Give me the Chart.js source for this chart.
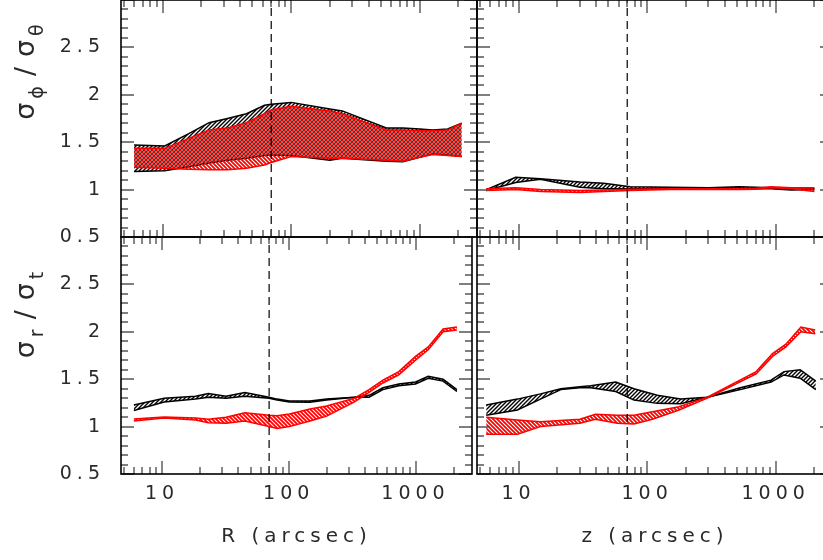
<!DOCTYPE html>
<html>
<head>
<meta charset="utf-8">
<title>Velocity dispersion ratios</title>
<script src="https://cdn.jsdelivr.net/npm/chart.js@4.4.1/dist/chart.umd.min.js"></script>
<style>
  html, body { margin: 0; padding: 0; background: #fff; }
  body { position: relative; width: 823px; height: 560px; overflow: hidden; }
  canvas { position: absolute; }
</style>
</head>
<body>
<canvas id="phiR" width="481" height="297" style="left:0;top:-30px"></canvas>
<canvas id="phiZ" width="380" height="297" style="left:465px;top:-30px"></canvas>
<canvas id="rtR" width="481" height="353" style="left:0;top:207px"></canvas>
<canvas id="rtZ" width="380" height="353" style="left:465px;top:207px"></canvas>
<script>
// ---------- data ----------
// sigma_phi / sigma_theta against R (arcsec)
const rPhi         = [6, 10.4, 16, 23, 32, 45, 62, 70, 100, 200, 250, 550, 740, 1000, 1260, 1650, 2120];
const phiR_blackLo = [1.19, 1.20, 1.24, 1.28, 1.31, 1.33, 1.36, 1.365, 1.36, 1.31, 1.33, 1.30, 1.295, 1.34, 1.375, 1.365, 1.35];
const phiR_blackHi = [1.47, 1.46, 1.59, 1.706, 1.75, 1.80, 1.89, 1.90, 1.92, 1.85, 1.83, 1.65, 1.65, 1.64, 1.63, 1.64, 1.70];
const phiR_redLo   = [1.235, 1.225, 1.215, 1.21, 1.21, 1.225, 1.26, 1.285, 1.35, 1.33, 1.33, 1.31, 1.30, 1.34, 1.37, 1.36, 1.35];
const phiR_redHi   = [1.435, 1.435, 1.54, 1.63, 1.65, 1.705, 1.80, 1.84, 1.88, 1.83, 1.80, 1.63, 1.63, 1.62, 1.62, 1.63, 1.70];

// sigma_phi / sigma_theta against z (arcsec)
const zPhi         = [5.6, 9.5, 14.8, 30, 46, 74, 150, 300, 519, 700, 920, 1320, 2000];
const phiZ_blackLo = [0.99, 1.075, 1.11, 1.025, 1.01, 1.01, 1.01, 1.01, 1.015, 1.01, 1.01, 0.995, 1.0];
const phiZ_blackHi = [1.00, 1.13, 1.115, 1.08, 1.066, 1.03, 1.025, 1.02, 1.03, 1.025, 1.02, 1.005, 1.01];
const phiZ_redLo   = [0.99, 1.0, 0.98, 0.97, 0.98, 0.99, 1.0, 1.0, 1.0, 1.005, 1.02, 1.01, 0.98];
const phiZ_redHi   = [1.01, 1.02, 1.0, 0.99, 0.995, 1.005, 1.01, 1.01, 1.01, 1.015, 1.03, 1.02, 1.02];

// sigma_r / sigma_t against R (arcsec)
const rRt         = [6, 10.4, 18.4, 23.2, 32, 45, 70, 81, 101, 147, 199, 330, 430, 553, 738, 1000, 1260, 1650, 2120];
const rtR_blackLo = [1.17, 1.26, 1.29, 1.31, 1.30, 1.32, 1.30, 1.28, 1.26, 1.256, 1.28, 1.31, 1.31, 1.39, 1.43, 1.45, 1.51, 1.48, 1.37];
const rtR_blackHi = [1.228, 1.30, 1.32, 1.35, 1.32, 1.36, 1.31, 1.29, 1.27, 1.27, 1.29, 1.31, 1.33, 1.41, 1.45, 1.47, 1.53, 1.50, 1.39];
const rtR_redLo   = [1.06, 1.09, 1.07, 1.04, 1.035, 1.06, 1.0, 0.98, 1.0, 1.06, 1.11, 1.26, 1.36, 1.46, 1.545, 1.70, 1.81, 2.0, 2.02];
const rtR_redHi   = [1.08, 1.10, 1.09, 1.077, 1.098, 1.147, 1.12, 1.115, 1.133, 1.186, 1.217, 1.30, 1.39, 1.49, 1.58, 1.74, 1.84, 2.03, 2.05];

// sigma_r / sigma_t against z (arcsec)
const zRtBlack    = [5.6, 9.8, 14.8, 21.3, 30, 36.5, 57, 79, 120, 182, 294, 530, 920, 1160, 1550, 2050];
const rtZ_blackLo = [1.12, 1.175, 1.29, 1.39, 1.41, 1.41, 1.37, 1.28, 1.245, 1.24, 1.31, 1.39, 1.47, 1.545, 1.51, 1.39];
const rtZ_blackHi = [1.228, 1.29, 1.345, 1.40, 1.42, 1.43, 1.47, 1.40, 1.33, 1.29, 1.31, 1.41, 1.49, 1.58, 1.60, 1.48];
const zRtRed      = [5.6, 9.8, 14.8, 30, 39.6, 58.6, 79, 110, 177, 294, 705, 944, 1200, 1570, 2030];
const rtZ_redLo   = [0.92, 0.92, 1.0, 1.035, 1.077, 1.035, 1.027, 1.077, 1.175, 1.30, 1.555, 1.74, 1.84, 2.0, 1.98];
const rtZ_redHi   = [1.098, 1.07, 1.05, 1.077, 1.13, 1.12, 1.12, 1.157, 1.21, 1.31, 1.58, 1.77, 1.87, 2.05, 2.02];

const markerX = 70;                         // dashed vertical marker (arcsec)
const yTickLabels = [0.5, 1, 1.5, 2, 2.5];
const xTickLabels = [10, 100, 1000];

// ---------- styling ----------
const FONT = "'DejaVu Sans', 'Liberation Sans', sans-serif";
const TEXT = '#2a2a2a';
const X_MIN = 4.75, X_MAX = 2790, Y_MIN = 0.5, Y_MAX = 3;
Chart.defaults.font.family = FONT;
Chart.defaults.font.size = 19;
Chart.defaults.color = TEXT;

// diagonal hatch tile used as a fill pattern
function makeHatch(color, dir, size, width) {
  const c = document.createElement('canvas');
  c.width = size; c.height = size;
  const g = c.getContext('2d');
  g.strokeStyle = color; g.lineWidth = width; g.lineCap = 'square';
  g.beginPath();
  if (dir > 0) {            // "/" lines
    g.moveTo(-1, size + 1); g.lineTo(size + 1, -1);
    g.moveTo(-1, 1); g.lineTo(1, -1);
    g.moveTo(size - 1, size + 1); g.lineTo(size + 1, size - 1);
  } else {                  // "\" lines
    g.moveTo(-1, -1); g.lineTo(size + 1, size + 1);
    g.moveTo(size - 1, -1); g.lineTo(size + 1, 1);
    g.moveTo(-1, size - 1); g.lineTo(1, size + 1);
  }
  g.stroke();
  return g.createPattern(c, 'repeat');
}
const hatchBlack = makeHatch('#000000', 1, 4, 1.4);
const hatchRed = makeHatch('#ff0000', -1, 4, 1.8);

// wider glyph spacing for the axis text
const spacedText = {
  id: 'spacedText',
  beforeDraw(chart) { chart.ctx.letterSpacing = '5px'; }
};

// box frame with inward major/minor tick marks on all four sides
const frameTicks = {
  id: 'frameTicks',
  afterDraw(chart) {
    const { ctx, chartArea: a, scales: { x, y } } = chart;
    ctx.save();
    ctx.strokeStyle = '#555';
    ctx.lineWidth = 1.4;
    ctx.beginPath();
    for (let i = 5; i <= 30; i++) {
      const py = Math.round(y.getPixelForValue(i / 10));
      const len = i % 5 === 0 ? 13 : 7;
      ctx.moveTo(a.left, py); ctx.lineTo(a.left + len, py);
      ctx.moveTo(a.right, py); ctx.lineTo(a.right - len, py);
    }
    for (let d = 1; d <= 1000; d *= 10) {
      for (let k = 1; k <= 9; k++) {
        const v = k * d;
        if (v < x.min || v > x.max) continue;
        const px = Math.round(x.getPixelForValue(v));
        const len = k === 1 ? 13 : 7;
        ctx.moveTo(px, a.bottom); ctx.lineTo(px, a.bottom - len);
        ctx.moveTo(px, a.top); ctx.lineTo(px, a.top + len);
      }
    }
    ctx.stroke();
    ctx.strokeStyle = '#000';
    ctx.lineWidth = 1.6;
    ctx.strokeRect(a.left, a.top, a.right - a.left, a.bottom - a.top);
    ctx.restore();
  }
};

// rotated y-axis title with subscripts; each part carries the gap that follows it
const yTitle = {
  id: 'yTitle',
  afterDraw(chart, args, opts) {
    if (!opts || !opts.parts) return;
    const ctx = chart.ctx;
    ctx.save();
    ctx.letterSpacing = '0px';
    ctx.fillStyle = TEXT;
    ctx.textBaseline = 'alphabetic';
    ctx.textAlign = 'left';
    const big = opts.size + 'px ' + FONT;
    const small = Math.round(opts.size * 0.72) + 'px ' + FONT;
    let total = 0;
    const widths = opts.parts.map((p, i) => {
      ctx.font = p.sub ? small : big;
      const w = ctx.measureText(p.t).width + (i < opts.parts.length - 1 ? (p.g || 0) : 0);
      total += w;
      return w;
    });
    ctx.translate(opts.x, opts.y);
    ctx.rotate(-Math.PI / 2);
    let cx = -total / 2;
    opts.parts.forEach((p, i) => {
      ctx.font = p.sub ? small : big;
      ctx.fillText(p.t, cx, p.sub ? opts.size * 0.32 : 0);
      cx += widths[i];
    });
    ctx.restore();
  }
};

function points(xs, ys) { return xs.map((x, i) => ({ x, y: ys[i] })); }

function band(xs, lo, hi, color, pattern, order) {
  return [
    { data: points(xs, lo), borderColor: color, borderWidth: 1.5, fill: false, order: order + 1 },
    { data: points(xs, hi), borderColor: color, borderWidth: 1.5, fill: '-1', backgroundColor: pattern, order: order }
  ];
}

function makePanel(id, cfg) {
  return new Chart(document.getElementById(id), {
    type: 'line',
    data: {
      datasets: [
        ...band(cfg.bx, cfg.blo, cfg.bhi, '#000000', hatchBlack, 3),
        ...band(cfg.rx, cfg.rlo, cfg.rhi, '#ff0000', hatchRed, 1),
        { data: [{ x: markerX, y: Y_MIN }, { x: markerX, y: Y_MAX }], borderColor: '#000',
          borderWidth: 1.2, borderDash: [8, 5], fill: false, order: 0 }
      ]
    },
    options: {
      responsive: false,
      animation: false,
      events: [],
      layout: { padding: cfg.padding },
      elements: { point: { radius: 0 }, line: { tension: 0 } },
      plugins: {
        legend: { display: false },
        tooltip: { enabled: false },
        yTitle: cfg.yTitle || {}
      },
      scales: {
        x: {
          type: 'logarithmic', min: X_MIN, max: X_MAX, display: cfg.showX,
          grid: { display: false, drawTicks: false }, border: { display: false },
          ticks: {
            autoSkip: false, maxRotation: 0, padding: 9,
            callback: v => (xTickLabels.includes(Math.round(v)) && Math.abs(v - Math.round(v)) < 1e-6) ? String(Math.round(v)) : ''
          },
          title: { display: !!cfg.xTitle, text: cfg.xTitle, font: { size: 20 }, padding: { top: 0, bottom: 11 } },
          afterFit: s => { s.height = cfg.showX ? 86 : 0; }
        },
        y: {
          type: 'linear', min: Y_MIN, max: Y_MAX, display: cfg.showY,
          grid: { display: false, drawTicks: false }, border: { display: false },
          ticks: {
            stepSize: 0.5, autoSkip: false, padding: 16,
            callback: v => yTickLabels.includes(v) ? String(v) : ''
          },
          afterFit: s => { s.width = cfg.showY ? 121 : 0; }
        }
      }
    },
    plugins: [spacedText, frameTicks, yTitle]
  });
}

makePanel('phiR', {
  bx: rPhi, blo: phiR_blackLo, bhi: phiR_blackHi,
  rx: rPhi, rlo: phiR_redLo, rhi: phiR_redHi,
  showX: false, showY: true,
  padding: { left: 0, top: 30, right: 4, bottom: 30 },
  yTitle: { parts: [{ t: 'σ', g: 4 }, { t: 'ϕ', sub: true, g: 10 }, { t: '/', g: 10 }, { t: 'σ', g: 4 }, { t: 'θ', sub: true }],
            x: 34, y: 102, size: 27 }
});
makePanel('phiZ', {
  bx: zPhi, blo: phiZ_blackLo, bhi: phiZ_blackHi,
  rx: zPhi, rlo: phiZ_redLo, rhi: phiZ_redHi,
  showX: false, showY: false,
  padding: { left: 12, top: 30, right: 12, bottom: 30 }
});
makePanel('rtR', {
  bx: rRt, blo: rtR_blackLo, bhi: rtR_blackHi,
  rx: rRt, rlo: rtR_redLo, rhi: rtR_redHi,
  showX: true, showY: true, xTitle: 'R (arcsec)',
  padding: { left: 0, top: 30, right: 4, bottom: 0 },
  yTitle: { parts: [{ t: 'σ', g: 4 }, { t: 'r', sub: true, g: 10 }, { t: '/', g: 10 }, { t: 'σ', g: 4 }, { t: 't', sub: true }],
            x: 34, y: 108, size: 27 }
});
makePanel('rtZ', {
  bx: zRtBlack, blo: rtZ_blackLo, bhi: rtZ_blackHi,
  rx: zRtRed, rlo: rtZ_redLo, rhi: rtZ_redHi,
  showX: true, showY: false, xTitle: 'z (arcsec)',
  padding: { left: 12, top: 30, right: 12, bottom: 0 }
});
</script>
</body>
</html>
